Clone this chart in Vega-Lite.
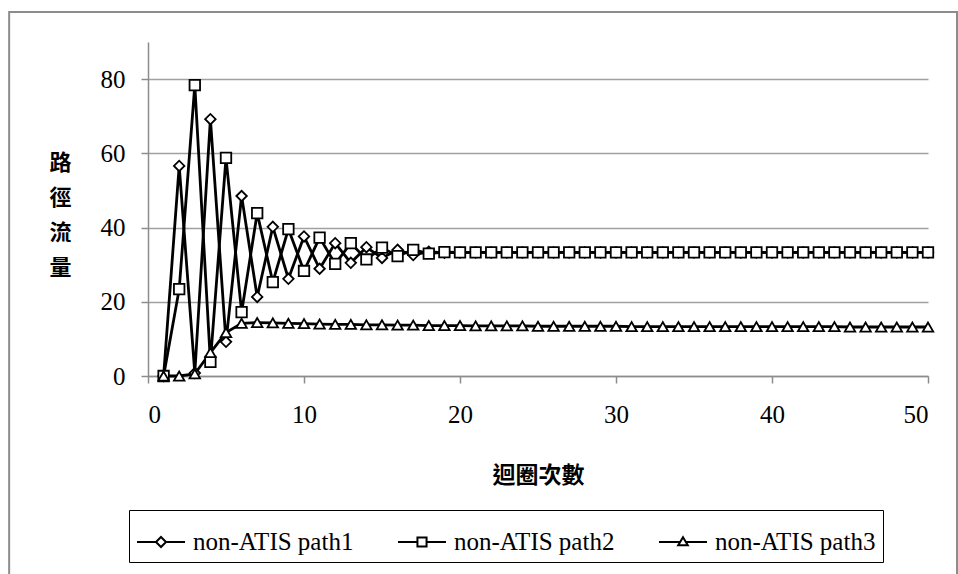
{
  "$schema": "https://vega.github.io/schema/vega-lite/v6.json",
  "width": 780,
  "height": 334,
  "autosize": {"type": "none"},
  "padding": {"left": 148, "top": 42, "right": 30, "bottom": 198},
  "background": "white",
  "config": {
    "view": {"stroke": null},
    "font": "Times New Roman, Liberation Serif, serif"
  },
  "datasets": {
    "flows": [
      {"iteration":1,"series":"non-ATIS path1","flow":0},{"iteration":2,"series":"non-ATIS path1","flow":56.6},{"iteration":3,"series":"non-ATIS path1","flow":0.8},{"iteration":4,"series":"non-ATIS path1","flow":69.2},{"iteration":5,"series":"non-ATIS path1","flow":9.2},{"iteration":6,"series":"non-ATIS path1","flow":48.5},{"iteration":7,"series":"non-ATIS path1","flow":21.3},{"iteration":8,"series":"non-ATIS path1","flow":40.2},{"iteration":9,"series":"non-ATIS path1","flow":26.2},{"iteration":10,"series":"non-ATIS path1","flow":37.6},
      {"iteration":11,"series":"non-ATIS path1","flow":28.9},{"iteration":12,"series":"non-ATIS path1","flow":35.8},{"iteration":13,"series":"non-ATIS path1","flow":30.5},{"iteration":14,"series":"non-ATIS path1","flow":34.7},{"iteration":15,"series":"non-ATIS path1","flow":31.8},{"iteration":16,"series":"non-ATIS path1","flow":34.0},{"iteration":17,"series":"non-ATIS path1","flow":32.6},{"iteration":18,"series":"non-ATIS path1","flow":33.5},{"iteration":19,"series":"non-ATIS path1","flow":33.2},{"iteration":20,"series":"non-ATIS path1","flow":33.3},
      {"iteration":21,"series":"non-ATIS path1","flow":33.3},{"iteration":22,"series":"non-ATIS path1","flow":33.3},{"iteration":23,"series":"non-ATIS path1","flow":33.3},{"iteration":24,"series":"non-ATIS path1","flow":33.3},{"iteration":25,"series":"non-ATIS path1","flow":33.3},{"iteration":26,"series":"non-ATIS path1","flow":33.3},{"iteration":27,"series":"non-ATIS path1","flow":33.3},{"iteration":28,"series":"non-ATIS path1","flow":33.3},{"iteration":29,"series":"non-ATIS path1","flow":33.3},{"iteration":30,"series":"non-ATIS path1","flow":33.3},
      {"iteration":31,"series":"non-ATIS path1","flow":33.3},{"iteration":32,"series":"non-ATIS path1","flow":33.3},{"iteration":33,"series":"non-ATIS path1","flow":33.3},{"iteration":34,"series":"non-ATIS path1","flow":33.3},{"iteration":35,"series":"non-ATIS path1","flow":33.3},{"iteration":36,"series":"non-ATIS path1","flow":33.3},{"iteration":37,"series":"non-ATIS path1","flow":33.3},{"iteration":38,"series":"non-ATIS path1","flow":33.3},{"iteration":39,"series":"non-ATIS path1","flow":33.3},{"iteration":40,"series":"non-ATIS path1","flow":33.3},
      {"iteration":41,"series":"non-ATIS path1","flow":33.3},{"iteration":42,"series":"non-ATIS path1","flow":33.3},{"iteration":43,"series":"non-ATIS path1","flow":33.3},{"iteration":44,"series":"non-ATIS path1","flow":33.3},{"iteration":45,"series":"non-ATIS path1","flow":33.3},{"iteration":46,"series":"non-ATIS path1","flow":33.3},{"iteration":47,"series":"non-ATIS path1","flow":33.3},{"iteration":48,"series":"non-ATIS path1","flow":33.3},{"iteration":49,"series":"non-ATIS path1","flow":33.3},{"iteration":50,"series":"non-ATIS path1","flow":33.3},
      {"iteration":1,"series":"non-ATIS path2","flow":0},{"iteration":2,"series":"non-ATIS path2","flow":23.4},{"iteration":3,"series":"non-ATIS path2","flow":78.4},{"iteration":4,"series":"non-ATIS path2","flow":3.8},{"iteration":5,"series":"non-ATIS path2","flow":58.8},{"iteration":6,"series":"non-ATIS path2","flow":17.2},{"iteration":7,"series":"non-ATIS path2","flow":43.9},{"iteration":8,"series":"non-ATIS path2","flow":25.3},{"iteration":9,"series":"non-ATIS path2","flow":39.6},{"iteration":10,"series":"non-ATIS path2","flow":28.3},
      {"iteration":11,"series":"non-ATIS path2","flow":37.3},{"iteration":12,"series":"non-ATIS path2","flow":30.2},{"iteration":13,"series":"non-ATIS path2","flow":35.8},{"iteration":14,"series":"non-ATIS path2","flow":31.4},{"iteration":15,"series":"non-ATIS path2","flow":34.6},{"iteration":16,"series":"non-ATIS path2","flow":32.3},{"iteration":17,"series":"non-ATIS path2","flow":34.0},{"iteration":18,"series":"non-ATIS path2","flow":33.0},{"iteration":19,"series":"non-ATIS path2","flow":33.4},{"iteration":20,"series":"non-ATIS path2","flow":33.3},
      {"iteration":21,"series":"non-ATIS path2","flow":33.3},{"iteration":22,"series":"non-ATIS path2","flow":33.3},{"iteration":23,"series":"non-ATIS path2","flow":33.3},{"iteration":24,"series":"non-ATIS path2","flow":33.3},{"iteration":25,"series":"non-ATIS path2","flow":33.3},{"iteration":26,"series":"non-ATIS path2","flow":33.3},{"iteration":27,"series":"non-ATIS path2","flow":33.3},{"iteration":28,"series":"non-ATIS path2","flow":33.3},{"iteration":29,"series":"non-ATIS path2","flow":33.3},{"iteration":30,"series":"non-ATIS path2","flow":33.3},
      {"iteration":31,"series":"non-ATIS path2","flow":33.3},{"iteration":32,"series":"non-ATIS path2","flow":33.3},{"iteration":33,"series":"non-ATIS path2","flow":33.3},{"iteration":34,"series":"non-ATIS path2","flow":33.3},{"iteration":35,"series":"non-ATIS path2","flow":33.3},{"iteration":36,"series":"non-ATIS path2","flow":33.3},{"iteration":37,"series":"non-ATIS path2","flow":33.3},{"iteration":38,"series":"non-ATIS path2","flow":33.3},{"iteration":39,"series":"non-ATIS path2","flow":33.3},{"iteration":40,"series":"non-ATIS path2","flow":33.3},
      {"iteration":41,"series":"non-ATIS path2","flow":33.3},{"iteration":42,"series":"non-ATIS path2","flow":33.3},{"iteration":43,"series":"non-ATIS path2","flow":33.3},{"iteration":44,"series":"non-ATIS path2","flow":33.3},{"iteration":45,"series":"non-ATIS path2","flow":33.3},{"iteration":46,"series":"non-ATIS path2","flow":33.3},{"iteration":47,"series":"non-ATIS path2","flow":33.3},{"iteration":48,"series":"non-ATIS path2","flow":33.3},{"iteration":49,"series":"non-ATIS path2","flow":33.3},{"iteration":50,"series":"non-ATIS path2","flow":33.3},
      {"iteration":1,"series":"non-ATIS path3","flow":0},{"iteration":2,"series":"non-ATIS path3","flow":0},{"iteration":3,"series":"non-ATIS path3","flow":0.6},{"iteration":4,"series":"non-ATIS path3","flow":6.3},{"iteration":5,"series":"non-ATIS path3","flow":11.7},{"iteration":6,"series":"non-ATIS path3","flow":14.2},{"iteration":7,"series":"non-ATIS path3","flow":14.4},{"iteration":8,"series":"non-ATIS path3","flow":14.3},{"iteration":9,"series":"non-ATIS path3","flow":14.2},{"iteration":10,"series":"non-ATIS path3","flow":14.1},
      {"iteration":11,"series":"non-ATIS path3","flow":14.0},{"iteration":12,"series":"non-ATIS path3","flow":13.9},{"iteration":13,"series":"non-ATIS path3","flow":13.9},{"iteration":14,"series":"non-ATIS path3","flow":13.8},{"iteration":15,"series":"non-ATIS path3","flow":13.8},{"iteration":16,"series":"non-ATIS path3","flow":13.7},{"iteration":17,"series":"non-ATIS path3","flow":13.7},{"iteration":18,"series":"non-ATIS path3","flow":13.6},{"iteration":19,"series":"non-ATIS path3","flow":13.6},{"iteration":20,"series":"non-ATIS path3","flow":13.6},
      {"iteration":21,"series":"non-ATIS path3","flow":13.5},{"iteration":22,"series":"non-ATIS path3","flow":13.5},{"iteration":23,"series":"non-ATIS path3","flow":13.5},{"iteration":24,"series":"non-ATIS path3","flow":13.5},{"iteration":25,"series":"non-ATIS path3","flow":13.4},{"iteration":26,"series":"non-ATIS path3","flow":13.4},{"iteration":27,"series":"non-ATIS path3","flow":13.4},{"iteration":28,"series":"non-ATIS path3","flow":13.4},{"iteration":29,"series":"non-ATIS path3","flow":13.4},{"iteration":30,"series":"non-ATIS path3","flow":13.4},
      {"iteration":31,"series":"non-ATIS path3","flow":13.3},{"iteration":32,"series":"non-ATIS path3","flow":13.3},{"iteration":33,"series":"non-ATIS path3","flow":13.3},{"iteration":34,"series":"non-ATIS path3","flow":13.3},{"iteration":35,"series":"non-ATIS path3","flow":13.3},{"iteration":36,"series":"non-ATIS path3","flow":13.3},{"iteration":37,"series":"non-ATIS path3","flow":13.3},{"iteration":38,"series":"non-ATIS path3","flow":13.3},{"iteration":39,"series":"non-ATIS path3","flow":13.3},{"iteration":40,"series":"non-ATIS path3","flow":13.3},
      {"iteration":41,"series":"non-ATIS path3","flow":13.3},{"iteration":42,"series":"non-ATIS path3","flow":13.3},{"iteration":43,"series":"non-ATIS path3","flow":13.3},{"iteration":44,"series":"non-ATIS path3","flow":13.3},{"iteration":45,"series":"non-ATIS path3","flow":13.2},{"iteration":46,"series":"non-ATIS path3","flow":13.2},{"iteration":47,"series":"non-ATIS path3","flow":13.2},{"iteration":48,"series":"non-ATIS path3","flow":13.2},{"iteration":49,"series":"non-ATIS path3","flow":13.2},{"iteration":50,"series":"non-ATIS path3","flow":13.2}
    ]
  },
  "layer": [
    {
      "data": {"name": "flows"},
      "mark": {"type": "line", "color": "black", "strokeWidth": 2.8},
      "encoding": {
        "x": {
          "field": "iteration", "type": "quantitative",
          "scale": {"domain": [0, 50], "nice": false, "zero": false},
          "axis": {
            "values": [0, 10, 20, 30, 40, 50],
            "grid": false,
            "domainColor": "#8c8c8c", "domainWidth": 1.5,
            "tickColor": "#8c8c8c", "tickWidth": 1.5, "tickSize": 7,
            "labelFont": "Times New Roman, Liberation Serif, serif", "labelFontSize": 25, "labelColor": "black",
            "labelPadding": 19,
            "title": "迴圈次數",
            "titleFont": "Noto Sans CJK TC", "titleFontWeight": "bold", "titleFontSize": 23,
            "titleColor": "black",
            "titleBaseline": "middle",
            "titleY": 99
          }
        },
        "y": {
          "field": "flow", "type": "quantitative",
          "scale": {"domain": [0, 90], "nice": false},
          "axis": {
            "values": [0, 20, 40, 60, 80],
            "grid": true, "gridColor": "#a0a0a0", "gridWidth": 1.5,
            "domainColor": "#8c8c8c", "domainWidth": 1.5,
            "tickColor": "#8c8c8c", "tickWidth": 1.5, "tickSize": 7,
            "labelFont": "Times New Roman, Liberation Serif, serif", "labelFontSize": 25, "labelColor": "black",
            "labelPadding": 16,
            "title": ["路", "徑", "流", "量"],
            "titleAngle": 0,
            "titleFont": "Noto Sans CJK TC", "titleFontWeight": "bold", "titleFontSize": 22,
            "titleColor": "black",
            "titleLineHeight": 35,
            "titleAlign": "center",
            "titleBaseline": "middle",
            "titleX": -88,
            "titleY": 120
          }
        },
        "detail": {"field": "series"}
      }
    },
    {
      "data": {"name": "flows"},
      "mark": {"type": "point", "filled": true, "fill": "white", "stroke": "black", "strokeWidth": 1.8, "size": 110, "opacity": 1},
      "encoding": {
        "x": {"field": "iteration", "type": "quantitative"},
        "y": {"field": "flow", "type": "quantitative"},
        "shape": {
          "field": "series", "type": "nominal",
          "scale": {"domain": ["non-ATIS path1", "non-ATIS path2", "non-ATIS path3"], "range": ["diamond", "square", "triangle-up"]},
          "legend": null
        }
      }
    },
    {
      "data": {"name": "flows"},
      "transform": [{"filter": "datum.iteration > 1000"}],
      "mark": {"type": "point", "filled": false, "color": "black", "strokeWidth": 2, "opacity": 1},
      "encoding": {
        "x": {"field": "iteration", "type": "quantitative"},
        "y": {"field": "flow", "type": "quantitative"},
        "shape": {
          "field": "series", "type": "nominal",
          "scale": {
            "domain": ["non-ATIS path1", "non-ATIS path2", "non-ATIS path3"],
            "range": [
              "M-1,0H-0.21M0.21,0H1M0,-0.21L0.21,0L0,0.21L-0.21,0Z",
              "M-1,0H-0.19M0.19,0H1M-0.19,-0.19H0.19V0.19H-0.19Z",
              "M-1,0H-0.12M0.12,0H1M0,-0.2L0.2,0.14H-0.2Z"
            ]
          },
          "legend": {
            "title": null,
            "orient": "none",
            "legendX": -19,
            "legendY": 468,
            "direction": "horizontal",
            "columns": 3,
            "padding": 7,
            "strokeColor": "black",
            "symbolSize": 2304,
            "symbolStrokeWidth": 2,
            "symbolStrokeColor": "black",
            "labelFont": "Times New Roman, Liberation Serif, serif",
            "labelFontSize": 25,
            "labelColor": "black",
            "labelOffset": 7,
            "labelLimit": 400,
            "columnPadding": 40
          }
        }
      }
    },
    {
      "data": {"values": [{"frame": "outer"}]},
      "mark": {"type": "rect", "fill": null, "stroke": "#8c8c8c", "strokeWidth": 2, "clip": false},
      "encoding": {
        "x": {"datum": -8.9, "type": "quantitative"},
        "x2": {"datum": 51.86},
        "y": {"datum": 98.1, "type": "quantitative"},
        "y2": {"datum": -60}
      }
    }
  ],
  "resolve": {"scale": {"shape": "independent"}, "legend": {"shape": "independent"}}
}
